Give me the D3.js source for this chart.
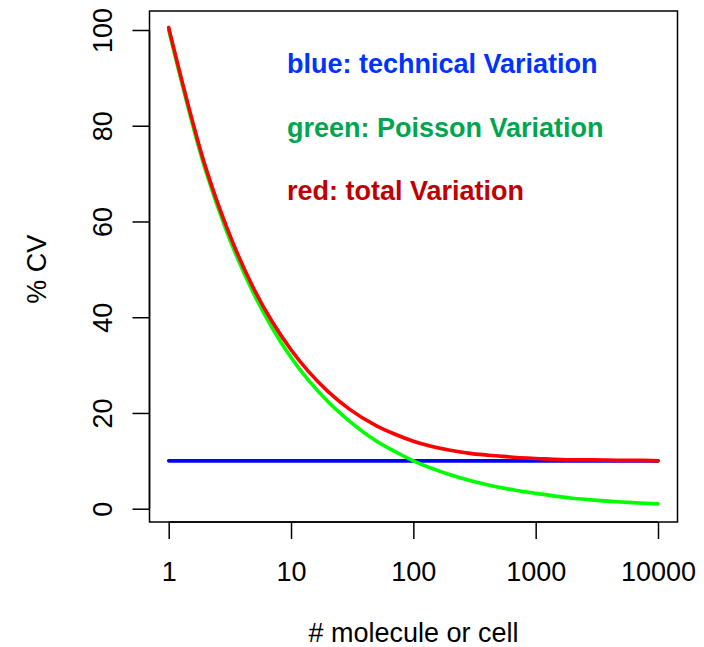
<!DOCTYPE html>
<html><head><meta charset="utf-8">
<script src="https://cdn.jsdelivr.net/npm/d3@7"></script>
<style>body{margin:0;background:#fff}svg{display:block}text{font-family:"Liberation Sans",Arial,sans-serif}</style>
</head><body>
<script>
const molecules = [1,2,3,5,7,10,20,30,50,70,100,200,300,500,700,1000,2000,3000,5000,7000,10000];
const technicalCV = [10,10,10,10,10,10,10,10,10,10,10,10,10,10,10,10,10,10,10,10,10];
const poissonCV = [100,70.7,57.7,44.7,37.8,31.6,22.4,18.3,14.1,12.0,10.0,7.1,5.8,4.5,3.8,3.2,2.2,1.8,1.4,1.2,1.0];
const totalCV = [100.5,71.4,58.6,45.8,39.1,33.2,24.5,20.8,17.3,15.6,14.1,12.2,11.5,11.0,10.7,10.5,10.2,10.2,10.1,10.1,10.0];
const xTicks = [1,10,100,1000,10000];
const yTicks = [0,20,40,60,80,100];
const legendLabels = ["blue: technical Variation","green: Poisson Variation","red: total Variation"];

const W=704,H=647,FS=27;
const svg=d3.select("body").append("svg").attr("width",W).attr("height",H);
const box={l:149.5,r:677.5,t:11,b:522};
const x=d3.scaleLog().domain([1,10000]).range([168.7,658]);
const y=d3.scaleLinear().domain([0,100]).range([508.7,30]);

svg.append("rect").attr("x",box.l).attr("y",box.t).attr("width",box.r-box.l).attr("height",box.b-box.t)
  .attr("fill","none").attr("stroke","#000").attr("stroke-width",1.5);

const xa=svg.append("g").attr("transform",`translate(0,${box.b})`)
  .call(d3.axisBottom(x).tickValues(xTicks).tickFormat(d3.format("d")).tickSize(17).tickPadding(23).tickSizeOuter(0));
xa.select(".domain").attr("d",`M${x(1)},0H${x(10000)}`).attr("stroke-width",1.5);
xa.selectAll(".tick line").attr("stroke-width",1.5);
xa.selectAll(".tick text").attr("font-size",FS).attr("fill","#000");

const ya=svg.append("g").attr("transform",`translate(${box.l},0)`)
  .call(d3.axisLeft(y).tickValues(yTicks).tickSize(17).tickSizeOuter(0));
ya.select(".domain").attr("d",`M0,${y(0)}V${y(100)}`).attr("stroke-width",1.5);
ya.selectAll(".tick line").attr("stroke-width",1.5);
ya.selectAll(".tick text").attr("font-size",FS).attr("fill","#000")
  .attr("text-anchor","middle").attr("x",0).attr("y",0)
  .attr("dx",null).attr("dy",null)
  .attr("transform","translate(-37.5,0) rotate(-90)");

svg.append("text").attr("x",(box.l+box.r)/2).attr("y",642).attr("text-anchor","middle")
  .attr("font-size",FS).text("# molecule or cell");
svg.append("text").attr("transform",`translate(46,${(y(0)+y(100))/2}) rotate(-90)`).attr("text-anchor","middle")
  .attr("font-size",FS).text("% CV");

const line=d3.line().x((d,i)=>x(molecules[i])).y(d=>y(d)).curve(d3.curveMonotoneX);
[[technicalCV,"#0000ff"],[poissonCV,"#00ff00"],[totalCV,"#ff0000"]].forEach(([s,c])=>{
  svg.append("path").attr("d",line(s)).attr("fill","none").attr("stroke",c).attr("stroke-width",3.6)
    .attr("stroke-linecap","round");
});

const legendColors=["#0033ff","#00a550","#c00000"];
const legendY=[73,137,200];
legendLabels.forEach((t,i)=>{
  svg.append("text").attr("x",287).attr("y",legendY[i]).attr("font-size",FS).attr("font-weight","bold")
    .attr("fill",legendColors[i]).text(t);
});
</script>
</body></html>
